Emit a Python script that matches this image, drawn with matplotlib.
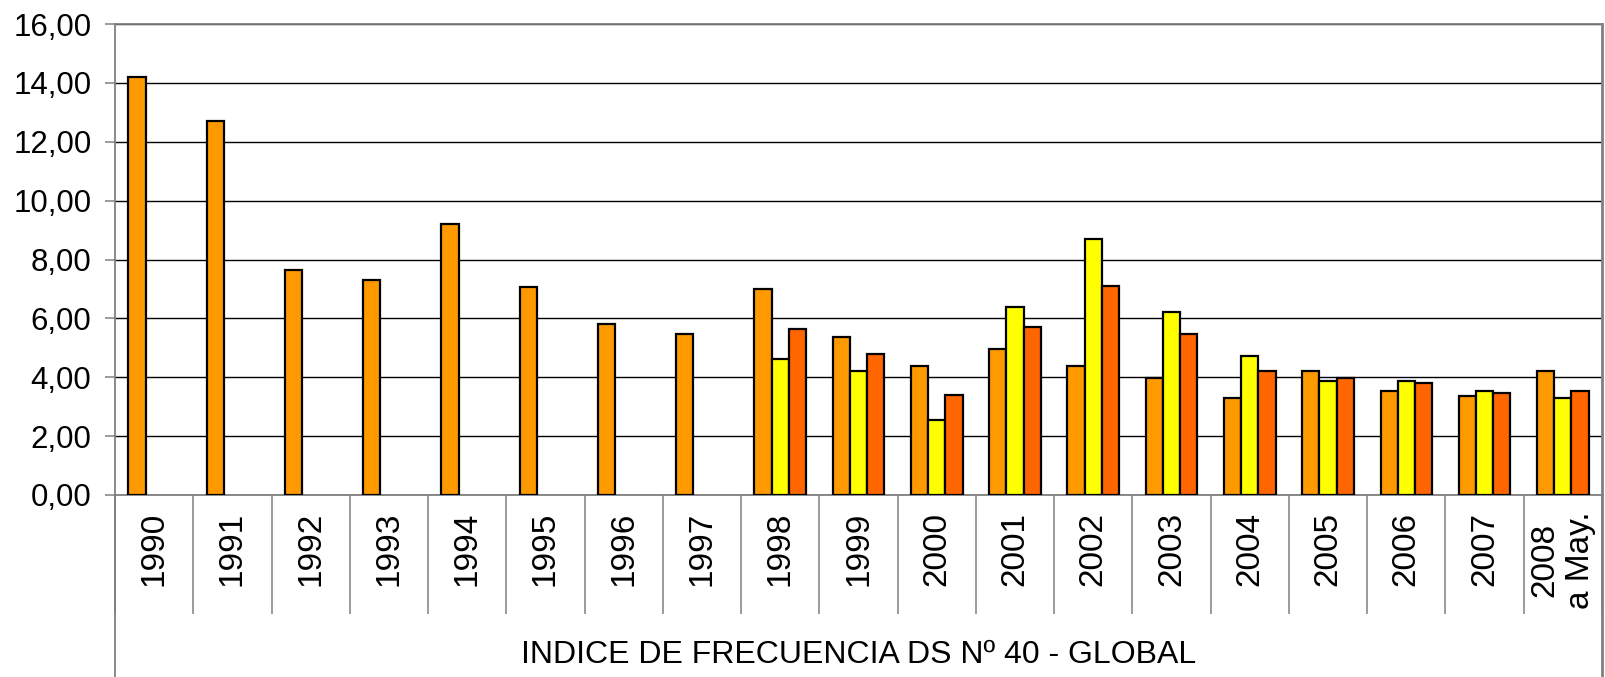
import numpy as np
import matplotlib.pyplot as plt
from matplotlib.lines import Line2D

plt.rcParams['font.family'] = ['Liberation Sans', 'DejaVu Sans']

# categories (years) and the three series
years = ['1990', '1991', '1992', '1993', '1994', '1995', '1996', '1997', '1998', '1999',
         '2000', '2001', '2002', '2003', '2004', '2005', '2006', '2007', '2008\na May.']
serie_1 = [14.20, 12.70, 7.64, 7.31, 9.22, 7.07, 5.81, 5.48, 6.99, 5.38,
           4.39, 4.95, 4.38, 3.96, 3.30, 4.21, 3.53, 3.37, 4.20]
serie_2 = [None] * 8 + [4.63, 4.21, 2.56, 6.37, 8.68, 6.20, 4.71, 3.87, 3.86, 3.53, 3.28]
serie_3 = [None] * 8 + [5.64, 4.79, 3.40, 5.71, 7.10, 5.46, 4.21, 3.96, 3.79, 3.45, 3.53]
y_ticks = [0, 2, 4, 6, 8, 10, 12, 14, 16]

colors = ['#FF9900', '#FFFF00', '#FF6600']
W, H = 1605, 677
fig = plt.figure(figsize=(W / 100, H / 100), dpi=100)
left, right, top, bottom = 115, 1602, 24, 495
ax = fig.add_axes([left / W, 1 - bottom / H, (right - left) / W, (bottom - top) / H])

x = np.arange(len(years))
bw = 0.22
for k, serie in enumerate([serie_1, serie_2, serie_3]):
    idx = [i for i, v in enumerate(serie) if v is not None]
    vals = [serie[i] for i in idx]
    ax.bar(x[idx] + (k - 1) * bw, vals, width=bw, color=colors[k],
           edgecolor='black', linewidth=1.6, zorder=3)

ax.set_xlim(-0.5, len(years) - 0.5)
ax.set_ylim(0, 16)
ax.set_yticks(y_ticks)
ax.set_yticklabels([f'{v:.2f}'.replace('.', ',') for v in y_ticks], fontsize=22.5)
ax.tick_params(axis='y', length=7, width=1.1, color='#808080', pad=10)
ax.yaxis.grid(True, color='black', linewidth=1.0, zorder=0)
ax.set_axisbelow(True)

# category separators as long major ticks, labels on minor ticks
ax.set_xticks(np.arange(-0.5, len(years)), labels=[''] * (len(years) + 1))
ax.tick_params(axis='x', which='major', length=86, width=1.1, color='#808080')
ax.set_xticks(x, labels=years, minor=True)
ax.tick_params(axis='x', which='minor', length=0, pad=12, labelsize=24, labelrotation=90)

for s in ['top', 'bottom', 'left']:
    ax.spines[s].set_color('#808080')
    ax.spines[s].set_linewidth(1.3)
ax.spines['right'].set_color('#808080')
ax.spines['right'].set_linewidth(2.0)

# extend the outer frame lines down to the bottom of the figure
fig.add_artist(Line2D([left / W, left / W], [0, 1 - bottom / H], color='#808080', linewidth=1.3))
fig.add_artist(Line2D([right / W, right / W], [0, 1 - bottom / H], color='#808080', linewidth=2.0))

fig.text((left + right) / 2 / W, 1 - 655 / H, 'INDICE DE FRECUENCIA DS Nº 40 - GLOBAL',
         ha='center', va='center', fontsize=23)

fig.savefig('out.png', dpi=100)
